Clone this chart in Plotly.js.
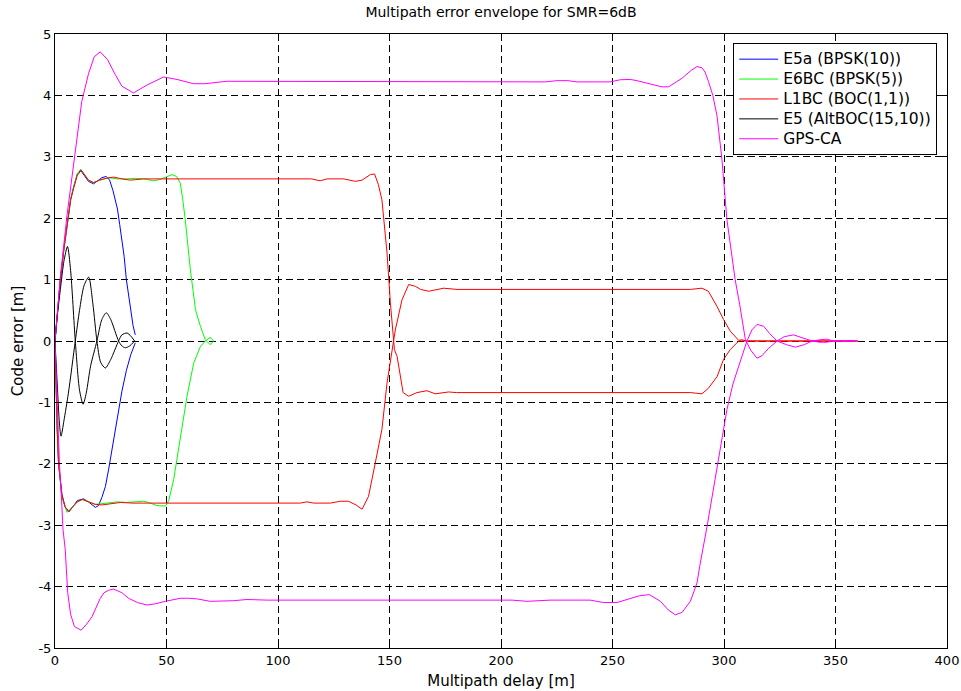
<!DOCTYPE html>
<html>
<head>
<meta charset="utf-8">
<script src="https://cdn.plot.ly/plotly-3.0.1.min.js"></script>
<style>
html,body{margin:0;padding:0;background:#fff;}
#chart{width:961px;height:691px;}
.legendtext{font-size:15.5px !important;}
</style>
</head>
<body>
<div id="chart"></div>
<script>
// ---- Data ----
const seriesNames = ['E5a (BPSK(10))', 'E6BC (BPSK(5))', 'L1BC (BOC(1,1))', 'E5 (AltBOC(15,10))', 'GPS-CA'];

// E5a (BPSK(10)) envelope
const e5aUpX = [0,1.2,2.4,4,5.7,7,8.3,10,11.5,13,15,17.3,19,21,23,24.5,26,28,29,30,31,32,33,34,35,36];
const e5aUpY = [0,0.5,1.0,1.5,2.0,2.3,2.5,2.72,2.78,2.7,2.6,2.56,2.6,2.66,2.68,2.62,2.45,2.15,1.9,1.65,1.38,1.0,0.75,0.48,0.25,0.1];
const e5aLoX = [0,0.5,1,1.6,3.1,4.5,6.3,8,10,12.8,15,18.1,19.5,21,22.6,24,25.6,27,28.5,30,32,34,36];
const e5aLoY = [0,-0.9,-1.45,-2.0,-2.5,-2.7,-2.78,-2.7,-2.6,-2.57,-2.62,-2.71,-2.68,-2.55,-2.37,-2.1,-1.77,-1.44,-1.15,-0.82,-0.48,-0.22,-0.03];

// E6BC (BPSK(5)) envelope
const e6UpX = [0,1.2,2.4,4,5.7,7,8.3,10,11.5,13,15,17.3,20,24,28,32,36,40,42,44.2,47,50,52.5,54.5,56.2,57.3,58.4,60.7,63,65.2,67.4,69.6,71.1];
const e6UpY = [0,0.5,1.0,1.5,2.0,2.3,2.5,2.72,2.8,2.72,2.62,2.58,2.62,2.66,2.64,2.64,2.65,2.64,2.62,2.61,2.63,2.68,2.71,2.68,2.57,2.3,1.98,1.16,0.51,0.24,0.02,-0.06,0];
const e6LoX = [0,0.5,1,1.6,3.1,5.4,8,10,12.5,15,18,21,25,28,32,36,39.7,42,45.7,49.5,51,53.2,56.2,59.2,62.2,65.2,67.4,69.6,71.1];
const e6LoY = [0,-0.9,-1.45,-2.0,-2.55,-2.79,-2.7,-2.62,-2.58,-2.62,-2.66,-2.65,-2.63,-2.62,-2.63,-2.62,-2.61,-2.63,-2.68,-2.69,-2.6,-2.26,-1.61,-0.9,-0.36,-0.09,0,0.06,0];

// L1BC (BOC(1,1)) envelope
const l1UpX = [0,1.2,2.4,4,5.7,7,8.3,10,11.8,13,15,17.3,20,23,26.3,30,33.8,39.7,50,60,80,100,115,118.9,122,129.5,134.7,137.7,141.4,143.3,145,146.6,148.9,150.4,152.2,153.4,156.1,158.6,162.3,166.8,170.5,176.5,180,200,250,284.9,290.1,293,296.9,299.8,302.8,306.6,310,330,360];
const l1UpY = [0,0.5,1.0,1.5,2.0,2.3,2.48,2.7,2.78,2.72,2.62,2.58,2.62,2.65,2.67,2.64,2.62,2.64,2.64,2.64,2.64,2.64,2.64,2.61,2.64,2.64,2.6,2.62,2.71,2.72,2.55,2.3,1.43,0.62,-0.14,-0.25,-0.84,-0.9,-0.84,-0.81,-0.86,-0.83,-0.84,-0.84,-0.84,-0.84,-0.86,-0.77,-0.58,-0.3,-0.14,0,0,0,0];
const l1LoX = [0,0.5,1,1.6,3.1,4.5,6.1,8,10,12.1,15,18,21.1,25,29.3,35,50,80,110,113,116,123.5,127.9,131.6,135,137.7,140.6,143.6,146.6,148.9,151.1,152.6,155.6,158.6,161.6,164,167.5,171,174.3,180.3,200,250,284.9,290.1,293,296.9,299.8,302.8,306.6,308,310,330,360];
const l1LoY = [0,-0.9,-1.45,-2.0,-2.5,-2.7,-2.78,-2.7,-2.62,-2.58,-2.62,-2.66,-2.67,-2.65,-2.63,-2.64,-2.64,-2.64,-2.64,-2.62,-2.64,-2.64,-2.61,-2.61,-2.67,-2.74,-2.53,-1.99,-1.44,-0.68,-0.14,0.18,0.67,0.92,0.89,0.84,0.81,0.84,0.86,0.84,0.84,0.84,0.84,0.86,0.81,0.56,0.35,0.16,0.01,0.02,0,0,0];

// E5 (AltBOC(15,10)) envelope
const e5UpX = [0,1,2.4,4,5.6,7,9.1,11,12.6,14,16,18.8,21,23,25,28.5,30,31.5,33.5,35.7];
const e5UpY = [0,0.4,0.84,1.3,1.54,1.15,0,-0.8,-1.03,-0.85,-0.4,0,0.35,0.46,0.35,0,-0.08,-0.11,-0.08,0];
const e5LoX = [0,1,2,2.7,4,6,9.1,11,13,15.1,17,18.8,20.5,22.6,25,28.5,30,32.3,34,35.7];
const e5LoY = [0,-0.7,-1.35,-1.55,-1.3,-0.85,0,0.5,0.9,1.04,0.6,0,-0.35,-0.44,-0.3,0,0.1,0.13,0.08,0];

// GPS-CA envelope
const gpsUpX = [0,2.4,5.4,9.1,12,15,17.6,20.3,23.6,27,30,35.2,41.3,48.7,54.7,62.2,67.2,77,86,95,150,220,225,230,234,249,253.5,258,261,265,268.4,272,275.2,278,281.2,285,287.9,290.1,291.5,293,295,296.9,299.1,301.3,303,305,307,309.6,312,314.8,317,320,323.8,327,331.2,335,339.5,343,346.2,349,355,359.6];
const gpsUpY = [0,1.05,2.05,3.1,3.9,4.35,4.63,4.71,4.58,4.34,4.15,4.04,4.17,4.3,4.26,4.19,4.19,4.23,4.23,4.22,4.22,4.22,4.24,4.24,4.22,4.22,4.255,4.26,4.24,4.2,4.17,4.14,4.14,4.2,4.28,4.4,4.47,4.45,4.38,4.23,4.0,3.66,2.95,1.98,1.5,1.0,0.6,0.02,-0.15,-0.28,-0.24,-0.12,0,0.07,0.1,0.06,0,0.02,0.03,0,0,0];
const gpsLoX = [0,1,2,3.1,3.6,4.6,5.7,7,8.7,11.7,14,16.6,18.5,20.3,22,24,26.3,30,33,37,41.3,45,49.5,56.2,60,63.7,69.6,75,80,86,95,150,205,211.7,217,222,240,246,252,258,262,266.5,271.5,275,278.2,281.2,284.9,287.9,289.1,292.4,296.9,301.3,304,306.6,310.3,312.5,314.8,317.8,320.5,323.8,328,332,336,339.5,343,346,349,352,359.6];
const gpsLoY = [0,-1.0,-2.0,-2.7,-3.07,-3.4,-4.1,-4.45,-4.65,-4.71,-4.62,-4.49,-4.33,-4.19,-4.1,-4.06,-4.04,-4.1,-4.19,-4.26,-4.3,-4.28,-4.24,-4.19,-4.19,-4.2,-4.24,-4.24,-4.23,-4.21,-4.22,-4.22,-4.22,-4.24,-4.23,-4.22,-4.22,-4.26,-4.26,-4.19,-4.15,-4.13,-4.24,-4.38,-4.46,-4.42,-4.24,-3.94,-3.67,-3.02,-2.04,-1.12,-0.7,-0.41,0,0.18,0.27,0.24,0.12,0,-0.06,-0.1,-0.06,0,-0.02,-0.02,0,0,0];

const seriesColors = ['#0000ff', '#00ff00', '#ff0000', '#000000', '#ff00ff'];

// Axis ticks
const xTickVals = [0,50,100,150,200,250,300,350,400];
const xTickText = ['0','50','100','150','200','250','300','350','400'];
const yTickVals = [-5,-4,-3,-2,-1,0,1,2,3,4,5];
const yTickText = ['-5','-4','-3','-2','-1','0','1','2','3','4','5'];

// ---- Build traces ----
const envelopes = [
  [e5aUpX, e5aUpY, e5aLoX, e5aLoY],
  [e6UpX, e6UpY, e6LoX, e6LoY],
  [l1UpX, l1UpY, l1LoX, l1LoY],
  [e5UpX, e5UpY, e5LoX, e5LoY],
  [gpsUpX, gpsUpY, gpsLoX, gpsLoY]
];
const traces = envelopes.map(function (env, i) {
  return {
    type: 'scatter',
    mode: 'lines',
    name: seriesNames[i],
    x: env[0].concat([null], env[2]),
    y: env[1].concat([null], env[3]),
    connectgaps: false,
    line: {color: seriesColors[i], width: 1, shape: i === 3 ? 'spline' : 'linear', smoothing: 0.7},
    hoverinfo: 'x+y+name'
  };
});

const FONT = 'DejaVu Sans, Arial, sans-serif';
const axisCommon = {
  showgrid: true,
  gridcolor: '#000000',
  gridwidth: 1,
  griddash: '7px,4px',
  showline: true,
  linecolor: '#000000',
  linewidth: 1,
  mirror: 'ticks',
  ticks: 'inside',
  ticklen: 5,
  tickcolor: '#000000',
  zeroline: false,
  automargin: false,
  tickfont: {family: FONT, size: 13, color: '#000'}
};

const layout = {
  width: 961,
  height: 691,
  margin: {l: 55, r: 14, t: 34, b: 43},
  paper_bgcolor: '#ffffff',
  plot_bgcolor: '#ffffff',
  font: {family: FONT, size: 13, color: '#000'},
  showlegend: true,
  title: {
    text: 'Multipath error envelope for SMR=6dB',
    x: 0.5, xref: 'paper', xanchor: 'center',
    y: 1 - 12 / 691, yref: 'container', yanchor: 'middle',
    font: {family: FONT, size: 14, color: '#000'}
  },
  xaxis: Object.assign({}, axisCommon, {
    range: [0, 400],
    tickmode: 'array',
    tickvals: xTickVals,
    ticktext: xTickText,
    title: {text: 'Multipath delay [m]', standoff: 8, font: {family: FONT, size: 15, color: '#000'}}
  }),
  yaxis: Object.assign({}, axisCommon, {
    range: [-5, 5],
    tickmode: 'array',
    tickvals: yTickVals,
    ticktext: yTickText,
    title: {text: 'Code error [m]', standoff: 11, font: {family: FONT, size: 15, color: '#000'}}
  }),
  legend: {
    x: 0.989, xanchor: 'right',
    y: 0.985, yanchor: 'top',
    bgcolor: '#ffffff',
    bordercolor: '#000000',
    borderwidth: 1,
    itemwidth: 39,
    font: {family: FONT, size: 13, color: '#000'},
    tracegroupgap: 0
  }
};

Plotly.newPlot('chart', traces, layout, {displayModeBar: false, staticPlot: true});
</script>
</body>
</html>
